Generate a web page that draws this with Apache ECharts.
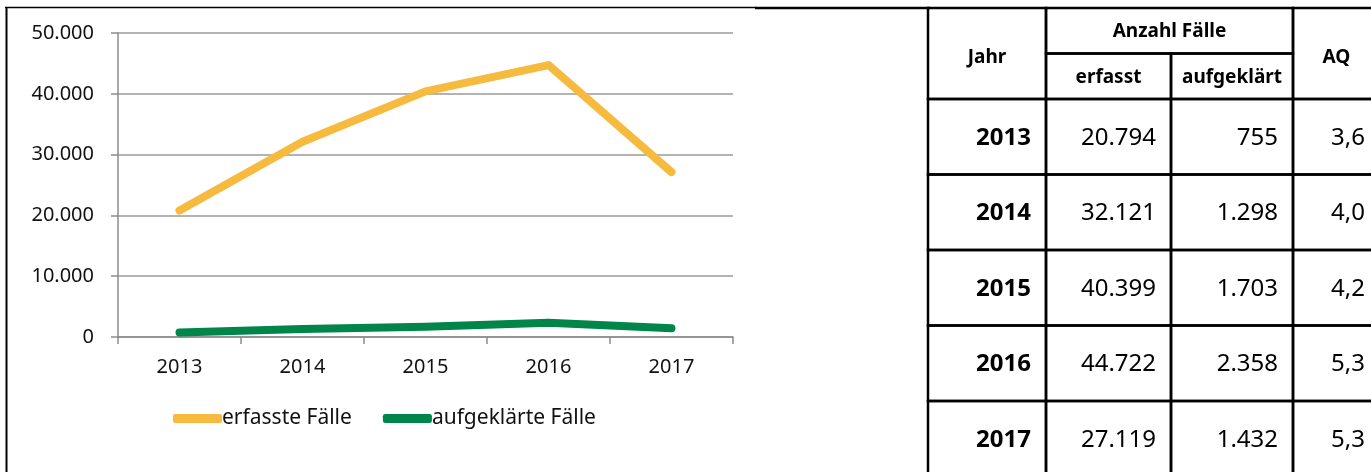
<!DOCTYPE html>
<html>
<head>
<meta charset="utf-8">
<script src="https://cdn.jsdelivr.net/npm/echarts@6/dist/echarts.min.js"></script>
<style>
  html, body { margin: 0; padding: 0; background: #fff; }
  #main { width: 1371px; height: 472px; }
</style>
</head>
<body>
<div id="main"></div>
<script>
var years = ['2013', '2014', '2015', '2016', '2017'];
var erfasst = [20794, 32121, 40399, 44722, 27119];
var aufgeklaert = [755, 1298, 1703, 2358, 1432];
var aq = [3.6, 4.0, 4.2, 5.3, 5.3];
var seriesNames = ['erfasste Fälle', 'aufgeklärte Fälle'];
var headTop = 'Anzahl Fälle';
var headCols = ['Jahr', 'erfasst', 'aufgeklärt', 'AQ'];

// table layout (axis units of the table grid, 1 unit = 1px)
var colEdges = [0, 118, 243, 365, 452];
var headRows = [0, 45.5, 91];
var rowH = 75.5;

function fmt(n) {
    return String(n).replace(/\B(?=(\d{3})+(?!\d))/g, '.');
}

var cells = [];
cells.push({ c: [0, 1], r: [headRows[0], headRows[2]], t: headCols[0], head: true, dy: 4 });
cells.push({ c: [1, 3], r: [headRows[0], headRows[1]], t: headTop, head: true, dy: 1 });
cells.push({ c: [1, 2], r: [headRows[1], headRows[2]], t: headCols[1], head: true, dy: 1 });
cells.push({ c: [2, 3], r: [headRows[1], headRows[2]], t: headCols[2], head: true, dy: 1 });
cells.push({ c: [3, 4], r: [headRows[0], headRows[2]], t: headCols[3], head: true, dy: 4 });
years.forEach(function (y, i) {
    var r0 = headRows[2] + i * rowH, r1 = r0 + rowH;
    var vals = [y, fmt(erfasst[i]), fmt(aufgeklaert[i]), aq[i].toFixed(1).replace('.', ',')];
    vals.forEach(function (v, j) {
        cells.push({ c: [j, j + 1], r: [r0, r1], t: v, head: false, bold: j === 0 });
    });
});

var chart = echarts.init(document.getElementById('main'));
var option = {
    textStyle: { fontFamily: 'Noto Sans' },
    animation: false,
    legend: {
        left: 168,
        top: 403,
        icon: 'roundRect',
        itemWidth: 49,
        itemHeight: 9,
        itemGap: 31,
        textStyle: { fontSize: 21, color: '#111', fontFamily: 'Noto Sans', padding: [0, 0, 0, -5] },
        data: seriesNames
    },
    graphic: [
        { type: 'line', shape: { x1: 6.5, y1: 7, x2: 6.5, y2: 472 }, style: { stroke: '#000', lineWidth: 2 } },
        { type: 'line', shape: { x1: 5, y1: 7.5, x2: 756, y2: 7.5 }, style: { stroke: '#000', lineWidth: 1.5 } },
        { type: 'line', shape: { x1: 755, y1: 8, x2: 930, y2: 8 }, style: { stroke: '#000', lineWidth: 2.5 } }
    ],
    grid: [
        { left: 118, top: 33, width: 615, height: 304 },
        { left: 928, top: 8, right: 0, bottom: 0 }
    ],
    xAxis: [
        {
            type: 'category',
            gridIndex: 0,
            data: years,
            boundaryGap: true,
            axisLine: { lineStyle: { color: '#8c8c8c', width: 1.5 } },
            axisTick: { show: true, length: 7, lineStyle: { color: '#8c8c8c', width: 1.5 } },
            axisLabel: { color: '#111', fontSize: 20, margin: 20 },
            splitLine: { show: false }
        },
        {
            type: 'value',
            gridIndex: 1,
            min: 0,
            max: 443,
            show: false
        }
    ],
    yAxis: [
        {
            type: 'value',
            gridIndex: 0,
            min: 0,
            max: 50000,
            interval: 10000,
            axisLine: { show: true, lineStyle: { color: '#8c8c8c', width: 1.5 } },
            axisTick: { show: true, length: 7, lineStyle: { color: '#8c8c8c', width: 1.5 } },
            axisLabel: { color: '#111', fontSize: 20, margin: 24, formatter: function (v) { return fmt(v); } },
            splitLine: { lineStyle: { color: '#9a9a9a', width: 1.5 } }
        },
        {
            type: 'value',
            gridIndex: 1,
            min: 0,
            max: 464,
            inverse: true,
            show: false
        }
    ],
    series: [
        {
            name: seriesNames[0],
            type: 'line',
            xAxisIndex: 0,
            yAxisIndex: 0,
            data: erfasst,
            symbol: 'none',
            color: '#F6BB3E',
            lineStyle: { width: 8, cap: 'round', join: 'round', color: '#F6BB3E' }
        },
        {
            name: seriesNames[1],
            type: 'line',
            xAxisIndex: 0,
            yAxisIndex: 0,
            data: aufgeklaert,
            symbol: 'none',
            color: '#00854A',
            lineStyle: { width: 8, cap: 'round', join: 'round', color: '#00854A' }
        },
        {
            type: 'custom',
            xAxisIndex: 1,
            yAxisIndex: 1,
            silent: true,
            clip: false,
            encode: { x: [0, 1], y: [2, 3] },
            data: cells.map(function (c) {
                return [colEdges[c.c[0]], colEdges[c.c[1]], c.r[0], c.r[1]];
            }),
            renderItem: function (params, api) {
                var cell = cells[params.dataIndex];
                var p0 = api.coord([api.value(0), api.value(2)]);
                var p1 = api.coord([api.value(1), api.value(3)]);
                var text;
                if (cell.head) {
                    text = {
                        type: 'text',
                        style: {
                            text: cell.t,
                            x: (p0[0] + p1[0]) / 2,
                            y: (p0[1] + p1[1]) / 2 + cell.dy,
                            align: 'center',
                            verticalAlign: 'middle',
                            fill: '#000',
                            font: 'bold 19px "Noto Sans"'
                        }
                    };
                } else {
                    text = {
                        type: 'text',
                        style: {
                            text: cell.t,
                            x: p1[0] - 15,
                            y: (p0[1] + p1[1]) / 2 + 1,
                            align: 'right',
                            verticalAlign: 'middle',
                            fill: '#000',
                            font: (cell.bold ? 'bold ' : '') + '24px "Noto Sans"'
                        }
                    };
                }
                return {
                    type: 'group',
                    children: [
                        {
                            type: 'rect',
                            shape: { x: p0[0], y: p0[1], width: p1[0] - p0[0], height: p1[1] - p0[1] },
                            style: { fill: 'none', stroke: '#000', lineWidth: 2.5 }
                        },
                        text
                    ]
                };
            }
        }
    ]
};
chart.setOption(option);
</script>
</body>
</html>
